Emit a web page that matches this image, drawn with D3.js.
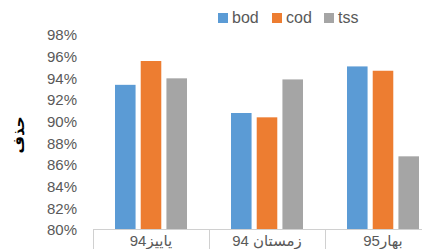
<!DOCTYPE html>
<html>
<head>
<meta charset="utf-8">
<script src="https://cdn.jsdelivr.net/npm/d3@7"></script>
<style>
  body { margin: 0; background: #fff; }
  text { font-family: "Liberation Sans", "DejaVu Sans", sans-serif; fill: #595959; }
</style>
</head>
<body>
<div id="chart"></div>
<script>
// data
const seasons = ["پاییز94", "زمستان 94", "بهار95"];
const series = ["bod", "cod", "tss"];
const bod = [0.934, 0.908, 0.951];
const cod = [0.956, 0.904, 0.947];
const tss = [0.940, 0.939, 0.868];
const yTicks = [0.80, 0.82, 0.84, 0.86, 0.88, 0.90, 0.92, 0.94, 0.96, 0.98];

const values = { bod: bod, cod: cod, tss: tss };
const color = d3.scaleOrdinal()
  .domain(series)
  .range(["#5b9bd5", "#ed7d31", "#a5a5a5"]);

const width = 422, height = 249;

const svg = d3.select("#chart")
  .append("svg")
  .attr("width", width)
  .attr("height", height);

// scales
const x = d3.scaleBand()
  .domain(seasons)
  .range([93, 441]);

const xInner = d3.scaleBand()
  .domain(series)
  .range([22, x.bandwidth() - 22])
  .paddingInner(0.2);

const y = d3.scaleLinear()
  .domain([0.80, 0.98])
  .range([230, 35]);

// y axis labels (no line)
svg.append("g")
  .selectAll("text")
  .data(yTicks)
  .join("text")
  .attr("x", 77)
  .attr("y", d => y(d))
  .attr("dy", "0.36em")
  .attr("text-anchor", "end")
  .style("font-size", "15px")
  .text(d3.format(".0%"));

// axis title
svg.append("text")
  .attr("transform", "translate(24,135) rotate(-90)")
  .attr("text-anchor", "middle")
  .style("font-size", "15px")
  .style("font-weight", "bold")
  .style("fill", "#000")
  .text("حذف");

// bars
const groups = svg.append("g")
  .selectAll("g")
  .data(seasons)
  .join("g")
  .attr("transform", d => `translate(${x(d)},0)`);

groups.selectAll("rect")
  .data((d, i) => series.map(s => ({ key: s, value: values[s][i] })))
  .join("rect")
  .attr("x", d => xInner(d.key))
  .attr("y", d => y(d.value))
  .attr("width", xInner.bandwidth())
  .attr("height", d => y(0.80) - y(d.value))
  .attr("fill", d => color(d.key));

// category box
const axisG = svg.append("g");
axisG.append("line")
  .attr("x1", x.range()[0]).attr("x2", width)
  .attr("y1", 229.5).attr("y2", 229.5)
  .attr("stroke", "#d0d0d0");
axisG.selectAll("line.div")
  .data(seasons)
  .join("line")
  .attr("class", "div")
  .attr("x1", d => Math.round(x(d)) + 0.5)
  .attr("x2", d => Math.round(x(d)) + 0.5)
  .attr("y1", 229.5).attr("y2", height)
  .attr("stroke", "#d0d0d0");
axisG.selectAll("text")
  .data(seasons)
  .join("text")
  .attr("x", d => x(d) + x.bandwidth() / 2)
  .attr("y", 246)
  .attr("text-anchor", "middle")
  .style("font-size", "15px")
  .text(d => d);

// legend
const legendX = [218, 272, 324];
const legend = svg.append("g")
  .selectAll("g")
  .data(series)
  .join("g")
  .attr("transform", (d, i) => `translate(${legendX[i]},12)`);
legend.append("rect")
  .attr("width", 10).attr("height", 10)
  .attr("y", 1)
  .attr("fill", d => color(d));
legend.append("text")
  .attr("x", 14)
  .attr("y", 11)
  .style("font-size", "16px")
  .text(d => d);
</script>
</body>
</html>
